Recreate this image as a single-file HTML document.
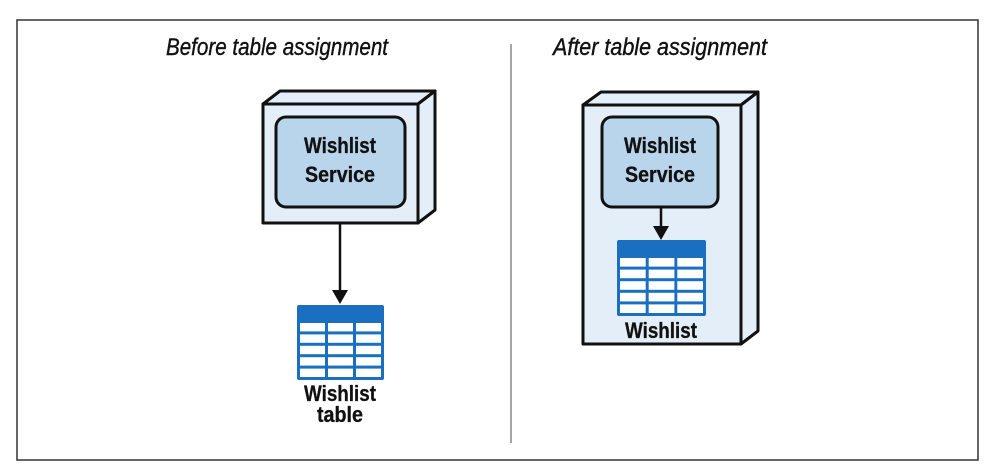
<!DOCTYPE html>
<html><head><meta charset="utf-8"><style>
html,body{margin:0;padding:0;background:#fff;}
svg{display:block;}
text{font-family:"Liberation Sans",sans-serif;}
</style></head><body>
<svg width="994" height="472" viewBox="0 0 994 472" xmlns="http://www.w3.org/2000/svg">
<rect x="17" y="20" width="961" height="440" fill="#fff" stroke="#333" stroke-width="1.5"/>
<line x1="511" y1="44" x2="511" y2="443" stroke="#888" stroke-width="1.5"/>
<text x="166" y="55" font-size="24" font-style="italic" textLength="222" lengthAdjust="spacingAndGlyphs" fill="#111" stroke="#111" stroke-width="0.4">Before table assignment</text>
<text x="553" y="55" font-size="24" font-style="italic" textLength="214" lengthAdjust="spacingAndGlyphs" fill="#111" stroke="#111" stroke-width="0.4">After table assignment</text>

<!-- Left box -->
<g stroke="#111" stroke-width="3" stroke-linejoin="round" fill="#e4eef8">
<polygon points="263,104 280,91 435,91 418,104"/>
<polygon points="418,104 435,91 435,210 418,223"/>
<rect x="263" y="104" width="155" height="119"/>
<rect x="276" y="117" width="129" height="90" rx="10" fill="#b9d5ec"/>
</g>
<g font-size="22" font-weight="bold" text-anchor="middle" fill="#111" stroke="#111" stroke-width="0.3">
<text x="340" y="153" textLength="72" lengthAdjust="spacingAndGlyphs">Wishlist</text>
<text x="340" y="182" textLength="70" lengthAdjust="spacingAndGlyphs">Service</text>
</g>
<line x1="340" y1="223" x2="340" y2="292" stroke="#111" stroke-width="2.5"/>
<polygon points="332,290 348,290 340,304" fill="#111"/>

<!-- Left table -->
<rect x="297" y="305" width="87" height="75" rx="2" fill="#1b6fc0"/>
<g fill="#fff">
<rect x="300" y="323" width="25" height="8.4"/><rect x="328" y="323" width="25" height="8.4"/><rect x="356" y="323" width="25" height="8.4"/>
<rect x="300" y="334.4" width="25" height="8.4"/><rect x="328" y="334.4" width="25" height="8.4"/><rect x="356" y="334.4" width="25" height="8.4"/>
<rect x="300" y="345.8" width="25" height="8.4"/><rect x="328" y="345.8" width="25" height="8.4"/><rect x="356" y="345.8" width="25" height="8.4"/>
<rect x="300" y="357.2" width="25" height="8.4"/><rect x="328" y="357.2" width="25" height="8.4"/><rect x="356" y="357.2" width="25" height="8.4"/>
<rect x="300" y="368.6" width="25" height="8.4"/><rect x="328" y="368.6" width="25" height="8.4"/><rect x="356" y="368.6" width="25" height="8.4"/>
</g>
<g font-size="22" font-weight="bold" text-anchor="middle" fill="#111" stroke="#111" stroke-width="0.3">
<text x="340" y="401" textLength="72" lengthAdjust="spacingAndGlyphs">Wishlist</text>
<text x="340" y="422" textLength="46" lengthAdjust="spacingAndGlyphs">table</text>
</g>

<!-- Right box -->
<g stroke="#111" stroke-width="3" stroke-linejoin="round" fill="#e4eef8">
<polygon points="583,105 601,92 758,92 741,105"/>
<polygon points="741,105 758,92 758,331 741,344"/>
<rect x="583" y="105" width="158" height="239"/>
<rect x="602" y="117" width="116" height="90" rx="10" fill="#b9d5ec"/>
</g>
<g font-size="22" font-weight="bold" text-anchor="middle" fill="#111" stroke="#111" stroke-width="0.3">
<text x="660" y="153" textLength="72" lengthAdjust="spacingAndGlyphs">Wishlist</text>
<text x="660" y="182" textLength="70" lengthAdjust="spacingAndGlyphs">Service</text>
</g>
<line x1="661" y1="207" x2="661" y2="228" stroke="#111" stroke-width="2.5"/>
<polygon points="653,226 669,226 661,240" fill="#111"/>

<!-- Right table -->
<rect x="617" y="240" width="89" height="76" rx="2" fill="#1b6fc0"/>
<g fill="#fff">
<rect x="620" y="258" width="25.7" height="8.6"/><rect x="648.7" y="258" width="25.7" height="8.6"/><rect x="677.3" y="258" width="25.7" height="8.6"/>
<rect x="620" y="269.6" width="25.7" height="8.6"/><rect x="648.7" y="269.6" width="25.7" height="8.6"/><rect x="677.3" y="269.6" width="25.7" height="8.6"/>
<rect x="620" y="281.2" width="25.7" height="8.6"/><rect x="648.7" y="281.2" width="25.7" height="8.6"/><rect x="677.3" y="281.2" width="25.7" height="8.6"/>
<rect x="620" y="292.8" width="25.7" height="8.6"/><rect x="648.7" y="292.8" width="25.7" height="8.6"/><rect x="677.3" y="292.8" width="25.7" height="8.6"/>
<rect x="620" y="304.4" width="25.7" height="8.6"/><rect x="648.7" y="304.4" width="25.7" height="8.6"/><rect x="677.3" y="304.4" width="25.7" height="8.6"/>
</g>
<text x="661" y="338" font-size="22" font-weight="bold" text-anchor="middle" fill="#111" stroke="#111" stroke-width="0.3" textLength="72" lengthAdjust="spacingAndGlyphs">Wishlist</text>
</svg>
</body></html>
